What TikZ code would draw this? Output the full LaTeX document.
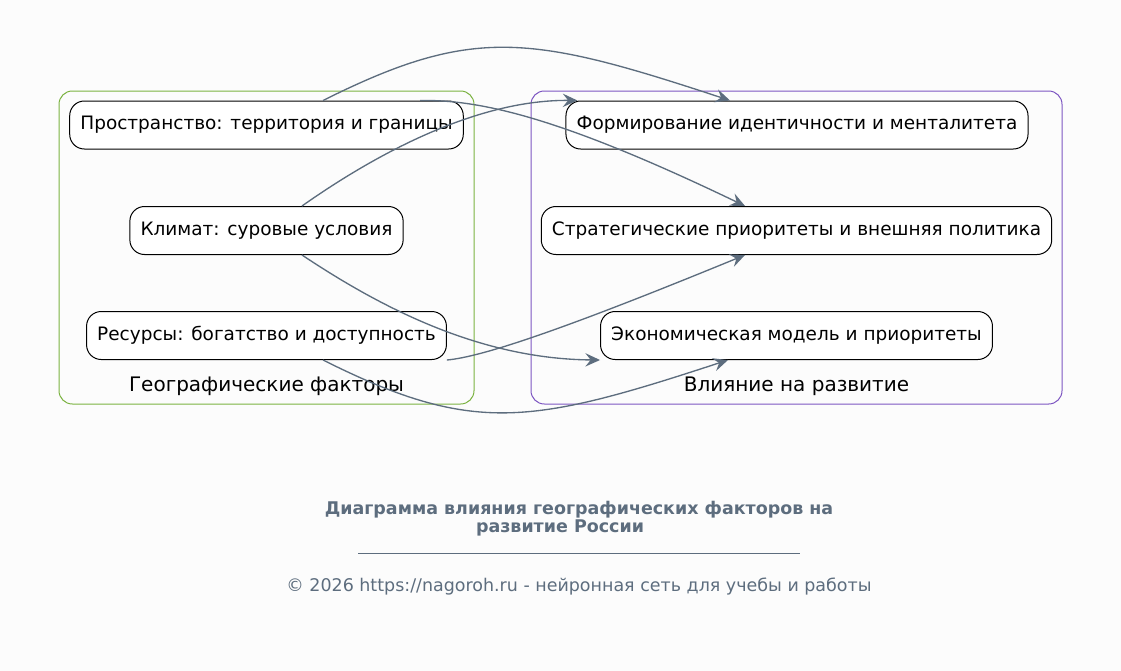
\documentclass[tikz,border=0pt]{standalone}
\usepackage{fontspec}
\setmainfont{DejaVu Sans}
\usepackage{tikz}
\usetikzlibrary{arrows.meta,calc}

\definecolor{slate}{HTML}{5D6D7E}
\definecolor{leafgreen}{HTML}{7CB342}
\definecolor{clusterviolet}{HTML}{7E57C2}
\definecolor{paper}{HTML}{FCFCFC}

\begin{document}
\begin{tikzpicture}[x=0.75pt, y=-0.75pt,
  factor/.style={draw=black, line width=0.75pt, fill=white, rounded corners=11pt,
    minimum height=36pt, inner xsep=8pt, font=\fontsize{13.85pt}{17pt}\selectfont},
  cluster/.style={line width=0.75pt, rounded corners=10pt},
  grouplabel/.style={font=\fontsize{15pt}{18pt}\selectfont},
  caption/.style={slate, font=\fontsize{13.1pt}{16pt}\selectfont},
  captiontitle/.style={slate, font=\fontsize{13.1pt}{16pt}\selectfont\bfseries},
  link/.style={slate, line width=1pt, -{Stealth[length=11pt, width=10pt, inset=4pt]}}]
% Canvas
\fill[paper] (0,0) rectangle (1121,671);
\useasboundingbox (0,0) rectangle (1121,671);

% Clusters
\draw[cluster, leafgreen] (59,91) rectangle (474,404);
\draw[cluster, clusterviolet] (531,91) rectangle (1062,404);
\node[grouplabel] (geolabel) at (266.5,386) {Географические факторы};
\node[grouplabel] (devlabel) at (796.5,386) {Влияние на развитие};

% Factors
\node[factor] (pros) at (266.5,125) {Пространство: территория и границы};
\node[factor] (klimat) at (266.5,230.5) {Климат: суровые условия};
\node[factor] (resursy) at (266.5,335.5) {Ресурсы: богатство и доступность};

% Effects
\node[factor] (ident) at (797,125) {Формирование идентичности и менталитета};
\node[factor] (strat) at (796.5,230.5) {Стратегические приоритеты и внешняя политика};
\node[factor] (econ) at (796.5,335.5) {Экономическая модель и приоритеты};

% Links
\draw[link] ($(pros.north)+(56.5,0)$) .. controls +(150,-75) and +(-200,-66) .. ($(ident.north)+(-67,0)$);
\draw[link] ($(pros.north)+(153.5,0)$) .. controls +(60,-1) and +(-185,-89) .. ($(strat.north)+(-51.5,0)$);
\draw[link] ($(klimat.north)+(35.5,0)$) .. controls +(78,-55) and +(-98,-1) .. ($(ident.north west)+(12,0)$);
\draw[link] ($(klimat.south)+(35.5,0)$) .. controls +(78,52) and +(-121,-1) .. (econ.south west);
\draw[link] (resursy.south east) .. controls +(34,-3) and +(-185,76) .. ($(strat.south)+(-51.5,0)$);
\draw[link] ($(resursy.south)+(56.5,0)$) .. controls +(150,75) and +(-198,65) .. ($(econ.south)+(-68.5,0)$);

% Caption
\node[captiontitle] (title1) at (579,509.5) {Диаграмма влияния географических факторов на};
\node[captiontitle] (title2) at (560,527.5) {развитие России};
\draw[slate, line width=0.6pt] (358,553) -- (800,553);
\node[caption] (copy) at (579,586.5) {© 2026 https://nagoroh.ru - нейронная сеть для учебы и работы};
\end{tikzpicture}
\end{document}
